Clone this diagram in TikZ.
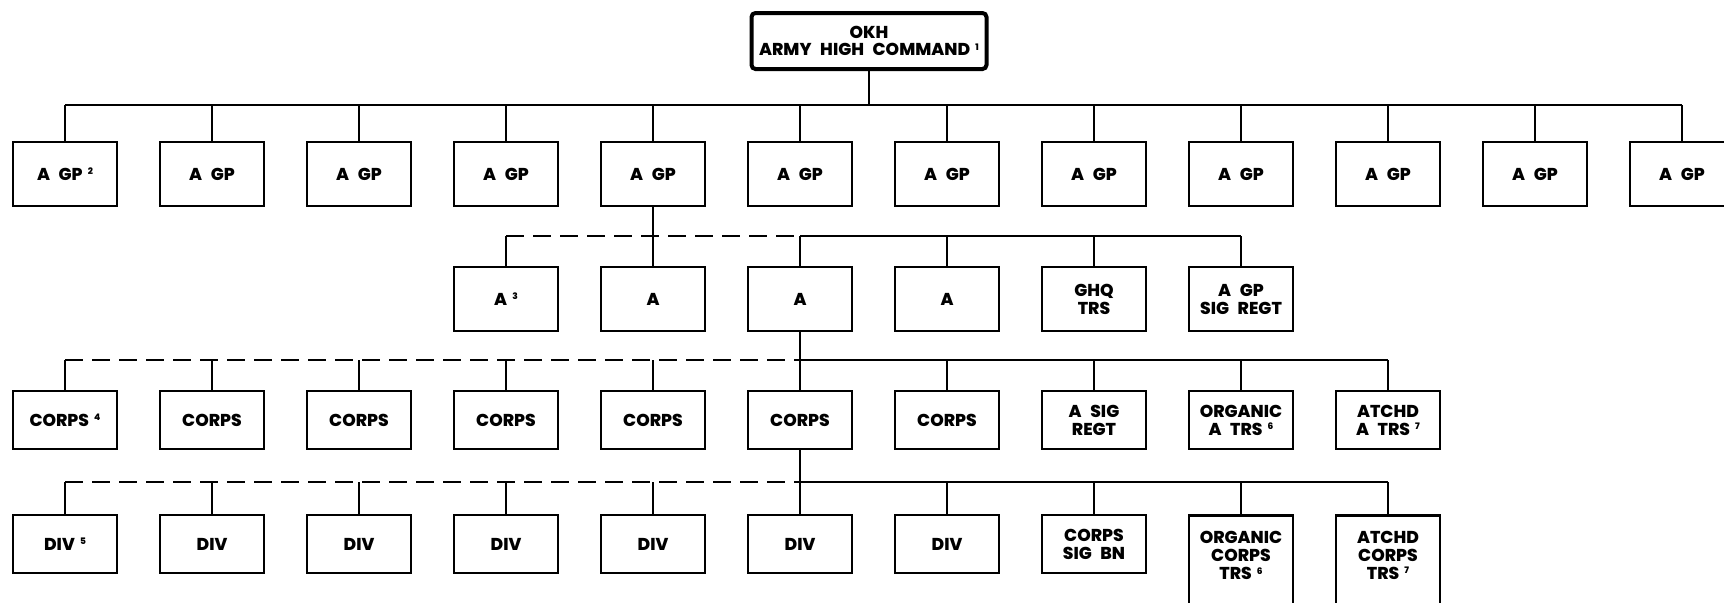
\documentclass[tikz,border=0pt]{standalone}
\usepackage{fontspec}
\setmainfont{Poppins}[BoldFont={Poppins ExtraBold}]
\newcommand{\wsp}{\hspace{0.5em}}
\newcommand{\fnote}[1]{\hspace{0.3em}\raisebox{0.33em}{\fontsize{4.5}{4.5}\selectfont #1}}
\tikzset{
  boxfont/.style={font=\fontsize{8.6}{9}\selectfont\bfseries},
  box/.style={draw, line width=1.4pt, minimum width=52pt, minimum height=32pt, align=center, inner sep=1pt, boxfont},
  lowbox/.style={box, minimum height=29pt},
  tallbox/.style={draw, line width=1.4pt, minimum width=52pt, minimum height=50pt, anchor=north},
  tbtext/.style={align=center, anchor=north, inner sep=0pt, boxfont},
  topbox/.style={draw, line width=2pt, rounded corners=2pt, minimum width=117.5pt, minimum height=28pt, align=center, inner sep=1pt, font=\fontsize{8.6}{8.8}\selectfont\bfseries},
  conn/.style={line width=1pt},
  dconn/.style={line width=1pt, dash pattern=on 9pt off 4.5pt}
}
\begin{document}
\begin{tikzpicture}[x=0.5pt,y=-0.5pt]
\clip (0,0) rectangle (1724,602);
% top
\node[topbox] (okh) at (869,41) {OKH\\ARMY\wsp HIGH\wsp COMMAND\fnote{1}};
% row 1
\node[box] (g0) at (65,174) {A\wsp GP\fnote{2}};
\foreach \k/\x in {1/212,2/359,3/506,4/653,5/800,6/947,7/1094,8/1241,9/1388,10/1535,11/1682}
  \node[box] (g\k) at (\x,174) {A\wsp GP};
% row 2
\node[box] (a3) at (506,299) {A\fnote{3}};
\node[box] (a4) at (653,299) {A};
\node[box] (a5) at (800,299) {A};
\node[box] (a6) at (947,299) {A};
\node[box] (a7) at (1094,299) {GHQ\\TRS};
\node[box] (a8) at (1241,299) {A\wsp GP\\SIG\wsp REGT};
% row 3
\node[lowbox] (c0) at (65,420) {CORPS\fnote{4}};
\foreach \k/\x in {1/212,2/359,3/506,4/653,5/800,6/947}
  \node[lowbox] (c\k) at (\x,420) {CORPS};
\node[lowbox] (c7) at (1094,420) {A\wsp SIG\\REGT};
\node[lowbox] (c8) at (1241,420) {ORGANIC\\A\wsp TRS\fnote{6}};
\node[lowbox] (c9) at (1388,420) {ATCHD\\A\wsp TRS\fnote{7}};
% row 4
\node[lowbox] (d0) at (65,544) {DIV\fnote{5}};
\foreach \k/\x in {1/212,2/359,3/506,4/653,5/800,6/947}
  \node[lowbox] (d\k) at (\x,544) {DIV};
\node[lowbox] (d7) at (1094,544) {CORPS\\SIG\wsp BN};
\node[tallbox] (d8) at (1241,514) {};
\node[tbtext] (d8t) at (1241,531) {ORGANIC\\CORPS\\TRS\fnote{6}};
\node[tallbox] (d9) at (1388,514) {};
\node[tbtext] (d9t) at (1388,531) {ATCHD\\CORPS\\TRS\fnote{7}};
% buses
\coordinate (b1) at (0,105);
\coordinate (b2) at (0,236);
\coordinate (b3) at (0,360);
\coordinate (b4) at (0,482);
% level 1
\draw[conn] (okh.south) -- (okh.south |- b1);
\draw[conn] (g0.north |- b1) -- (g11.north |- b1);
\foreach \k in {0,...,11} \draw[conn] (g\k.north) -- (g\k.north |- b1);
% level 2
\draw[conn] (g4.south) -- (a4.north);
\draw[dconn] (a3.north |- b2) -- (a5.north |- b2);
\draw[conn] (a5.north |- b2) -- (a8.north |- b2);
\foreach \k in {3,5,6,7,8} \draw[conn] (a\k.north) -- (a\k.north |- b2);
% level 3
\draw[conn] (a5.south) -- (c5.north);
\draw[dconn] (c0.north |- b3) -- (c5.north |- b3);
\draw[conn] (c5.north |- b3) -- (c9.north |- b3);
\foreach \k in {0,1,2,3,4,6,7,8,9} \draw[conn] (c\k.north) -- (c\k.north |- b3);
% level 4
\draw[conn] (c5.south) -- (d5.north);
\draw[dconn] (d0.north |- b4) -- (d5.north |- b4);
\draw[conn] (d5.north |- b4) -- (d9.north |- b4);
\foreach \k in {0,1,2,3,4,6,7,8,9} \draw[conn] (d\k.north) -- (d\k.north |- b4);
\end{tikzpicture}
\end{document}
